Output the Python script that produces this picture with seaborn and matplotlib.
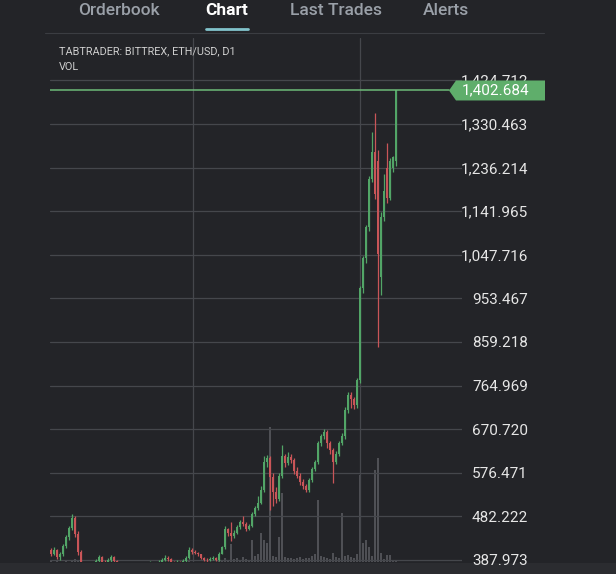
import matplotlib
matplotlib.use("Agg")
import matplotlib.pyplot as plt
from matplotlib.patches import Polygon, Rectangle
from matplotlib.lines import Line2D
import pandas as pd
import seaborn as sns

# --- data (ETH/USD, Bittrex, daily candles) ---
opens = [410, 402, 410, 395, 400, 418, 438, 458, 478, 445,
         405, 375, 360, 352, 362, 374, 386, 394, 384, 376,
         388, 395, 385, 368, 356, 348, 342, 350, 344, 336,
         342, 356, 366, 374, 381, 372, 378, 384, 389, 393,
         390, 384, 380, 383, 380, 386, 392, 410, 406, 404,
         400, 393, 388, 387, 391, 393, 388, 402, 415, 455,
         446, 440, 447, 460, 470, 466, 455, 462, 488, 500,
         512, 540, 600, 608, 568, 535, 520, 570, 612, 598,
         610, 604, 580, 570, 556, 548, 540, 560, 585, 600,
         640, 655, 665, 640, 625, 600, 618, 640, 655, 712,
         745, 735, 722, 776, 975, 1040, 1108, 1212, 1270, 1250,
         1000, 1130, 1235, 1170, 1235, 1250]
highs = [414, 415, 412, 405, 422, 442, 462, 488, 482, 450,
         410, 380, 366, 368, 378, 390, 398, 396, 388, 392,
         399, 397, 388, 372, 360, 352, 356, 353, 347, 346,
         360, 370, 378, 386, 384, 382, 388, 393, 398, 396,
         392, 386, 388, 385, 390, 396, 416, 414, 410, 406,
         402, 395, 392, 395, 397, 395, 406, 418, 462, 458,
         470, 452, 464, 475, 482, 470, 466, 492, 505, 526,
         548, 612, 615, 612, 575, 545, 575, 636, 618, 622,
         616, 608, 590, 575, 562, 552, 565, 590, 605, 645,
         660, 672, 668, 645, 630, 624, 646, 662, 718, 752,
         750, 740, 782, 980, 1045, 1112, 1218, 1312, 1354, 1275,
         1140, 1222, 1290, 1256, 1262, 1402.684]
lows = [396, 398, 390, 388, 396, 414, 432, 452, 438, 398,
        368, 352, 345, 348, 358, 370, 380, 378, 370, 372,
        384, 380, 364, 350, 343, 336, 340, 339, 330, 333,
        340, 352, 362, 370, 368, 369, 374, 380, 386, 386,
        380, 376, 378, 376, 378, 384, 390, 402, 400, 396,
        390, 385, 383, 385, 388, 385, 386, 400, 412, 440,
        430, 436, 444, 456, 462, 450, 452, 460, 484, 496,
        508, 536, 590, 496, 505, 512, 516, 566, 590, 594,
        598, 574, 565, 550, 542, 535, 536, 556, 580, 596,
        634, 650, 630, 618, 555, 596, 612, 636, 650, 706,
        716, 715, 716, 770, 965, 1030, 1100, 1205, 1168, 848,
        960, 1120, 1160, 1165, 1226, 1240]
closes = [402, 410, 395, 400, 418, 438, 458, 478, 445, 405,
          375, 360, 352, 362, 374, 386, 394, 384, 376, 388,
          395, 385, 368, 356, 348, 342, 350, 344, 336, 342,
          356, 366, 374, 381, 372, 378, 384, 389, 393, 390,
          384, 380, 383, 380, 386, 392, 410, 406, 404, 400,
          393, 388, 387, 391, 393, 388, 402, 415, 455, 446,
          440, 447, 460, 470, 466, 455, 462, 488, 500, 512,
          540, 600, 608, 568, 535, 520, 570, 612, 598, 610,
          604, 580, 570, 556, 548, 540, 560, 585, 600, 640,
          655, 665, 640, 625, 600, 618, 640, 655, 712, 745,
          735, 722, 776, 975, 1040, 1108, 1212, 1270, 1180, 1050,
          1130, 1185, 1170, 1250, 1258, 1402.684]
volumes = [1, 0, 1, 0, 0, 1, 0, 2, 3, 1,
           0, 0, 0, 0, 0, 0, 0, 0, 0, 0,
           0, 0, 0, 0, 0, 0, 0, 0, 0, 0,
           0, 0, 0, 0, 0, 0, 0, 0, 0, 0,
           0, 0, 0, 0, 0, 0, 1, 0, 0, 0,
           0, 0, 0, 0, 0, 0, 1, 2, 4, 2,
           18, 3, 4, 2, 5, 3, 2, 22, 6, 8,
           29, 22, 19, 135, 6, 5, 25, 69, 5, 4,
           4, 3, 4, 5, 3, 4, 4, 6, 8, 62,
           6, 5, 4, 3, 9, 5, 4, 49, 6, 7,
           5, 4, 8, 87, 19, 22, 15, 6, 92, 104,
           9, 3, 7, 7, 2, 1]

price_labels = ["387.973", "482.222", "576.471", "670.720", "764.969",
                "859.218", "953.467", "1,047.716", "1,141.965",
                "1,236.214", "1,330.463", "1,424.712"]
month_lines = [47.3, 103.0]   # day index of the two vertical grid lines
tabs = ["Orderbook", "Chart", "Last Trades", "Alerts"]
last_price = "1,402.684"

# --- style ---
BG = "#232428"
GRID = "#45474c"
UP = "#52a567"
DOWN = "#c95558"
TAG = "#5fae6b"
VOL = "#4f5055"

sns.set_theme(style="dark", rc={"axes.facecolor": BG, "figure.facecolor": BG})
plt.rcParams["font.family"] = ["Roboto", "DejaVu Sans"]

W, H = 616, 574
fig = plt.figure(figsize=(W / 100, H / 100), dpi=100)


def fx(px):
    return px / W


def fy(py):
    return 1 - py / H


df = pd.DataFrame({"day": range(len(closes)), "open": opens, "high": highs,
                   "low": lows, "close": closes, "volume": volumes})
df["color"] = [UP if c >= o else DOWN for o, c in zip(df.open, df.close)]

# lighter strip under the plot (time axis area), kept behind everything
fig.add_artist(Rectangle((0, 0), 1, fy(563), transform=fig.transFigure,
                         facecolor="#2b2c30", edgecolor="none", zorder=-5))

rect = [fx(50), fy(562), fx(412), 524 / H]
xlim = (-1 / 3, 137)
ylim = (383.65, 1516.1)

# volume panel underneath
axv = fig.add_axes(rect)
sns.barplot(data=df, x="day", y="volume", native_scale=True, color=VOL,
            width=0.4, errorbar=None, saturation=1, linewidth=0, ax=axv)
axv.set_xlim(*xlim)
axv.set_ylim(0, 524)
axv.axis("off")

# price panel on top
ax = fig.add_axes(rect)
ax.set_facecolor("none")
ax.vlines(df.day, df.low, df.high, colors=df.color, lw=0.9)
ax.bar(df.day, (df.close - df.open).abs(), bottom=df[["open", "close"]].min(axis=1),
       width=0.7, color=df.color, linewidth=0)
ax.set_xlim(*xlim)
ax.set_ylim(*ylim)

ticks = [float(s.replace(",", "")) for s in price_labels]
ax.set_yticks(ticks)
ax.set_yticklabels(price_labels)
ax.yaxis.tick_right()
ax.set_xticks(month_lines)
ax.set_xticklabels([])
ax.tick_params(axis="y", pad=47.5, length=0, labelsize=11, labelcolor="#e6e6e6")
ax.tick_params(axis="x", length=0)
for lbl in ax.get_yticklabels():
    lbl.set_horizontalalignment("right")
ax.grid(True, color=GRID, lw=0.9)
for s in ax.spines.values():
    s.set_visible(False)

# last price line + tag
last = closes[-1]
units_per_px = (ylim[1] - ylim[0]) / 524
half = 10 * units_per_px
tip, base, right = (449 - 50) / 412, (456 - 50) / 412, (545 - 50) / 412
ax.axhline(last, xmin=0, xmax=tip, color="#6dbb78", lw=1.1, zorder=4)
ax.add_patch(Polygon([(tip, last), (base, last + half), (right, last + half),
                      (right, last - half), (base, last - half)],
                     closed=True, transform=ax.get_yaxis_transform(),
                     facecolor=TAG, edgecolor="none", clip_on=False, zorder=10))
ax.text((462 - 50) / 412, last, last_price, transform=ax.get_yaxis_transform(),
        ha="left", va="center", fontsize=11, color="white", zorder=11, clip_on=False)

# header: tabs, underline, separator, chart title
centers = [118.8, 226.8, 336.5, 445.6]
for name, cx in zip(tabs, centers):
    active = name == "Chart"
    fig.text(fx(cx), fy(10.5), name, ha="center", va="center", fontsize=12.5,
             color="white" if active else "#9aa0a8",
             fontweight="bold" if active else "medium")
fig.add_artist(Line2D([fx(206), fx(248)], [fy(29), fy(29)], color="#82c4cc", lw=2))
fig.add_artist(Line2D([fx(45), fx(544)], [fy(32.5), fy(32.5)], color="#3b3d42", lw=0.8))
fig.text(fx(59), fy(51), "TABTRADER: BITTREX, ETH/USD, D1", ha="left", va="center",
         fontsize=7.8, color="#cfcfcf")
fig.text(fx(59), fy(67), "VOL", ha="left", va="center", fontsize=7.8, color="#cfcfcf")

fig.savefig("out.png", dpi=100, facecolor=BG)
